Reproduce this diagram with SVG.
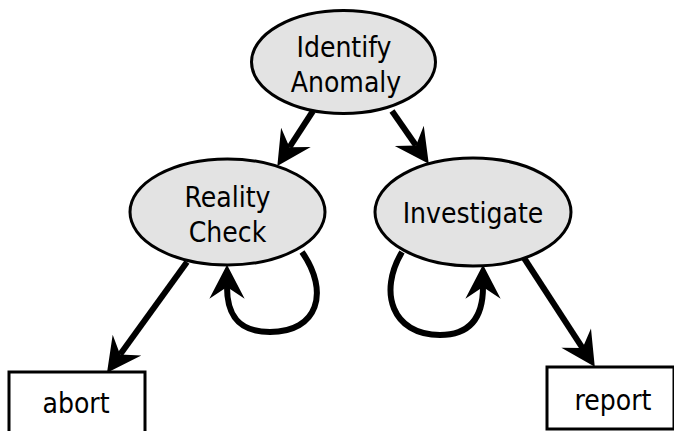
<svg xmlns="http://www.w3.org/2000/svg" width="674" height="431" viewBox="0 0 674 431">
<style>
.node ellipse{fill:#e3e3e3;stroke:#000;stroke-width:3}
.box rect{fill:#fff;stroke:#000;stroke-width:3}
text{font-family:"DejaVu Sans Condensed","DejaVu Sans",Verdana,sans-serif;font-stretch:condensed;font-size:28px;fill:#000;text-anchor:middle}
.edge{fill:none;stroke:#000;stroke-width:6}
</style>
<defs>
<marker id="ah" markerUnits="userSpaceOnUse" markerWidth="40" markerHeight="40" refX="0" refY="0" viewBox="-12 -17 34 34" orient="auto" overflow="visible">
<path d="M19,0 L-10,-15 L0,0 L-10,15 Z" fill="#000"/>
</marker>
</defs>
<rect width="674" height="431" fill="#fff"/>
<g id="identify" class="node">
<ellipse cx="343.5" cy="62" rx="92" ry="51.5"/>
<text x="344" y="56.5">Identify</text>
<text x="346" y="91.5">Anomaly</text>
</g>
<g id="reality" class="node">
<ellipse cx="227.5" cy="212" rx="97.5" ry="53"/>
<text x="227.5" y="206.5">Reality</text>
<text x="227.5" y="241.5">Check</text>
</g>
<g id="investigate" class="node">
<ellipse cx="473" cy="212" rx="98" ry="54"/>
<text x="473" y="222.5">Investigate</text>
</g>
<g id="abort" class="box">
<rect x="9" y="372" width="136" height="70"/>
<text x="76" y="413">abort</text>
</g>
<g id="report" class="box">
<rect x="547" y="367" width="127" height="62"/>
<text x="613" y="410">report</text>
</g>
<g id="connectors">
<path class="edge" d="M313,111 L289.5,147.2" marker-end="url(#ah)"/>
<path class="edge" d="M392,111 L416,145.5" marker-end="url(#ah)"/>
<path class="edge" d="M187,262 L120.1,354.6" marker-end="url(#ah)"/>
<path class="edge" d="M524,258 L582.6,348.1" marker-end="url(#ah)"/>
<path class="edge" d="M302,252 C330,292 318,332 270,332 C238,332 227,315 227,287" marker-end="url(#ah)"/>
<path class="edge" d="M402,252 C378,292 392,335 440,335 C472,335 483,315 483,287" marker-end="url(#ah)"/>
</g>
</svg>
